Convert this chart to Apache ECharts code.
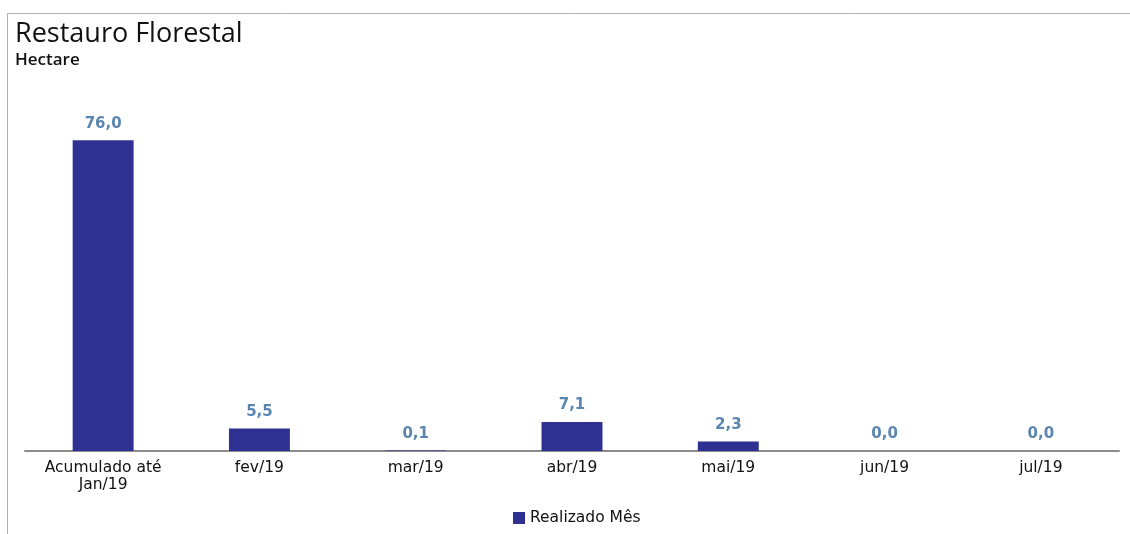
<!DOCTYPE html>
<html><head><meta charset="utf-8">
<script src="https://cdn.jsdelivr.net/npm/echarts@6/dist/echarts.min.js"></script>
<style>html,body{margin:0;padding:0;background:#fff}#c{width:1130px;height:534px}</style>
</head><body><div id="c"></div>
<script>
var categories = ['Acumulado até\nJan/19', 'fev/19', 'mar/19', 'abr/19', 'mai/19', 'jun/19', 'jul/19'];
var realizadoMes = [76.0, 5.5, 0.1, 7.1, 2.3, 0.0, 0.0];
var seriesName = 'Realizado Mês';
var titleText = 'Restauro Florestal';
var subtitleText = 'Hectare';

var chart = echarts.init(document.getElementById('c'), null, {renderer: 'canvas'});
chart.setOption({
  animation: false,
  backgroundColor: '#ffffff',
  title: {
    text: titleText, subtext: subtitleText, left: 10, top: 16, itemGap: 4,
    textStyle: {fontFamily: 'Open Sans', fontSize: 27, fontWeight: 'normal', color: '#111'},
    subtextStyle: {fontFamily: 'Open Sans', fontSize: 17, fontWeight: 600, color: '#111'}
  },
  graphic: [
    {type: 'line', shape: {x1: 7, y1: 13.5, x2: 1130, y2: 13.5}, style: {stroke: '#b0b0b0', lineWidth: 1}},
    {type: 'line', shape: {x1: 7.5, y1: 13, x2: 7.5, y2: 534}, style: {stroke: '#b0b0b0', lineWidth: 1}}
  ],
  legend: {
    data: [seriesName], left: 508, top: 505, itemWidth: 12, itemHeight: 12, itemGap: 6, icon: 'rect',
    textStyle: {fontFamily: 'DejaVu Sans', fontSize: 15.5, color: '#111'}
  },
  grid: {left: 25, right: 11, top: 124, bottom: 83},
  xAxis: {
    type: 'category', data: categories,
    axisLine: {lineStyle: {color: '#8c8c8c', width: 2}},
    axisTick: {show: false},
    axisLabel: {fontFamily: 'DejaVu Sans', fontSize: 15.5, color: '#111', margin: 8, lineHeight: 17}
  },
  yAxis: {type: 'value', min: 0, max: 80, show: false, splitLine: {show: false}},
  series: [{
    name: seriesName, type: 'bar', data: realizadoMes, barWidth: '39%',
    itemStyle: {color: '#2e3192'},
    label: {
      show: true, position: 'top', distance: 9,
      fontFamily: 'DejaVu Sans', fontSize: 15, fontWeight: 'bold', color: '#5a86b0',
      formatter: function (p) { return p.value.toFixed(1).replace('.', ','); }
    }
  }]
});
</script></body></html>
